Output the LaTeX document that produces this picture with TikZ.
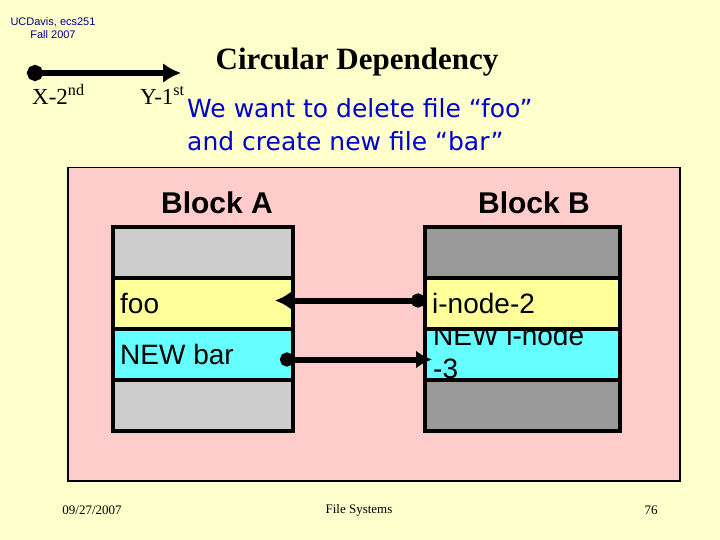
\documentclass[tikz,border=0pt]{standalone}
\usepackage{fontspec}
\setmainfont{Liberation Serif}
\setsansfont{Liberation Sans}
\newfontfamily\handfont{DejaVu Sans}
\usetikzlibrary{arrows.meta,positioning}

\definecolor{slidebg}{HTML}{FFFFCC}
\definecolor{panelpink}{HTML}{FFCCCC}
\definecolor{rowyellow}{HTML}{FFFF99}
\definecolor{rowcyan}{HTML}{66FFFF}
\definecolor{graylight}{HTML}{CCCCCC}
\definecolor{graydark}{HTML}{999999}
\definecolor{noteblue}{HTML}{0000CC}
\definecolor{navy}{HTML}{000080}

\tikzset{
  row/.style={draw, line width=3.5pt, minimum height=51, inner sep=0pt, outer sep=0pt},
  celltext/.style={font=\sffamily\fontsize{28}{33}\selectfont, anchor=west, inner sep=7pt},
  blocklabel/.style={font=\sffamily\bfseries\fontsize{30}{33}\selectfont},
  footer/.style={font=\fontsize{13}{15}\selectfont},
  link/.style={line width=6pt, {Circle[length=14pt]}-{Latex[length=16pt,width=18pt]}}
}

\begin{document}
\begin{tikzpicture}[x=1pt, y=-1pt]
\fill[slidebg] (0,0) rectangle (720,540);
\useasboundingbox (0,0) rectangle (720,540);

% header
\node[font=\sffamily\fontsize{11}{13}\selectfont, text=navy, align=center] (course) at (53,28) {UCDavis, ecs251\\Fall 2007};
\node[font=\bfseries\fontsize{31}{33}\selectfont] (title) at (357,62) {Circular Dependency};

% order of the writes
\coordinate (xend) at (27,73);
\coordinate (yend) at (181,73);
\draw[line width=6.5pt, {Circle[length=16pt]}-{Latex[length=18pt,width=20pt]}] (xend) -- (yend);
\node[font=\fontsize{23}{25}\selectfont, anchor=base west, inner sep=0pt] (xlabel) at (32,105) {X-2\textsuperscript{nd}};
\node[font=\fontsize{23}{25}\selectfont, anchor=base west, inner sep=0pt] (ylabel) at (140,105) {Y-1\textsuperscript{st}};

\node[font=\handfont\fontsize{25}{33}\selectfont, text=noteblue, align=left, anchor=north west, inner sep=0pt] (note) at (187,98) {We want to delete file “foo”\\and create new file “bar”};

% the two disk blocks
\node[draw, fill=panelpink, line width=1.5pt, minimum width=612, minimum height=313, anchor=north west, inner sep=0pt] (panel) at (67,167) {};
\node[blocklabel] (blockA) at (217,203) {Block A};
\node[blocklabel] (blockB) at (534,203) {Block B};

\node[row, fill=graylight, minimum width=180, anchor=north west] (a1) at (113,227) {};
\node[row, fill=rowyellow, minimum width=180, below=0pt of a1] (a2) {};
\node[row, fill=rowcyan, minimum width=180, below=0pt of a2] (a3) {};
\node[row, fill=graylight, minimum width=180, below=0pt of a3] (a4) {};
\node[celltext] (foo) at (a2.west) {foo};
\node[celltext] (bar) at (a3.west) {NEW bar};

\node[row, fill=graydark, minimum width=195, anchor=north west] (b1) at (425,227) {};
\node[row, fill=rowyellow, minimum width=195, below=0pt of b1] (b2) {};
\node[row, fill=rowcyan, minimum width=195, below=0pt of b2] (b3) {};
\node[row, fill=graydark, minimum width=195, below=0pt of b3] (b4) {};
\node[font=\sffamily\fontsize{28}{33}\selectfont, align=left, anchor=base west, inner sep=0pt] (inode3) at ([xshift=8pt,yshift=-49pt]b3.north west) {NEW i-node\\-3};
\fill[rowyellow, draw=black, line width=3.5pt] (b2.north west) rectangle (b2.south east);
\node[celltext] (inode2) at (b2.west) {i-node-2};

% pointers
\coordinate (p2) at ([yshift=3pt]b2.west);
\coordinate (pfoo) at ([xshift=-18pt,yshift=3pt]a2.east);
\coordinate (pbar) at ([xshift=-13pt,yshift=-5pt]a3.east);
\coordinate (p3) at ([xshift=7pt,yshift=-5pt]b3.west);
\draw[link] (p2) -- (pfoo);
\draw[link] (pbar) -- (p3);

% footer
\node[footer] (date) at (92,510) {09/27/2007};
\node[footer] (topic) at (359,510) {File Systems};
\node[footer] (page) at (651,510) {76};
\end{tikzpicture}
\end{document}
